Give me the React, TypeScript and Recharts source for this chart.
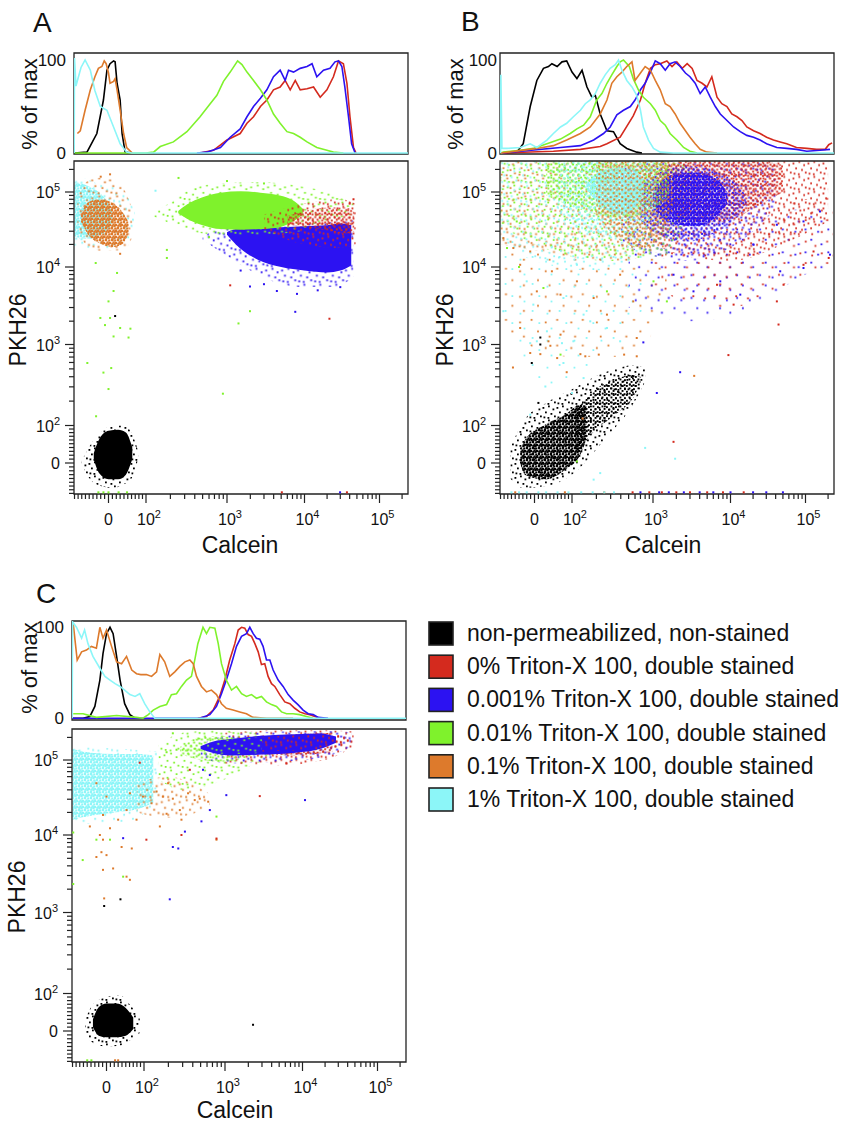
import React from 'react';
import { ComposedChart, Line, Area, Scatter, XAxis, YAxis, ReferenceArea } from 'recharts';

// ---- series / legend ----
const SERIES_KEYS = ['black', 'red', 'blue', 'green', 'orange', 'cyan'];
const SERIES_LABELS = [
  'non-permeabilized, non-stained',
  '0% Triton-X 100, double stained',
  '0.001% Triton-X 100, double stained',
  '0.01% Triton-X 100, double stained',
  '0.1% Triton-X 100, double stained',
  '1% Triton-X 100, double stained',
];
const COLORS: Record<string, string> = {
  black: '#000000',
  red: '#d42a1e',
  blue: '#2c12f2',
  green: '#7ff22c',
  orange: '#dd7a2c',
  cyan: '#8cf6f8',
};

// ---- axis ticks (raw fluorescence units) ----
const MAJOR_TICKS = [0, 100, 1000, 10000, 100000];
const MINOR_TICKS = [
  -90, -80, -70, -60, -50, -40, -30, -20, -10,
  10, 20, 30, 40, 50, 60, 70, 80, 90,
  200, 300, 400, 500, 600, 700, 800, 900,
  2000, 3000, 4000, 5000, 6000, 7000, 8000, 9000,
  20000, 30000, 40000, 50000, 60000, 70000, 80000, 90000,
  200000,
];
const PCT_TICKS = [0, 100];

// ---- histograms: [calcein, % of max] ----
const histA_black = [[-90, 0], [-56, 1], [-30, 21], [-13, 57], [-4, 89], [4, 96], [13, 99], [17, 98], [22, 75], [30, 57], [35, 21], [43, 1], [60, 0]];
const histA_red = [[465, 0], [680, 3], [1000, 14], [1480, 21], [1810, 32], [2200, 39], [2700, 50], [3270, 57], [3980, 68], [4850, 71], [5630, 78], [6540, 68], [7600, 78], [8800, 68], [10800, 69], [13200, 71], [16200, 60], [19900, 68], [24300, 82], [28400, 99], [33000, 96], [36800, 75], [40400, 39], [45000, 6], [48700, 0]];
const histA_blue = [[425, 0], [565, 1], [830, 6], [1100, 17], [1480, 26], [1810, 39], [2200, 50], [2700, 59], [3270, 68], [3980, 82], [4850, 89], [5630, 78], [6220, 89], [7220, 87], [8800, 91], [10800, 93], [12600, 96], [14600, 82], [17900, 89], [21900, 91], [25500, 98], [28400, 99], [31500, 93], [34500, 71], [38600, 39], [42500, 10], [47300, 0]];
const histA_green = [[-90, 0], [100, 0], [124, 1], [150, 7], [218, 12], [320, 23], [465, 39], [620, 53], [750, 62], [905, 77], [1100, 87], [1370, 99], [1560, 95], [1810, 87], [2200, 78], [2700, 68], [3270, 57], [3980, 42], [4850, 32], [5940, 23], [7220, 21], [8800, 17], [10800, 12], [14600, 6], [19900, 3], [24300, 1], [33000, 0]];
const histA_orange = [[-82, 21], [-74, 24], [-61, 46], [-47, 68], [-35, 82], [-26, 91], [-17, 93], [-11, 99], [-6, 96], [0, 86], [4, 75], [13, 77], [17, 80], [22, 68], [30, 46], [39, 21], [47, 6], [62, 0]];
const histA_cyan = [[-91, 0], [-90, 102], [-86, 72], [-72, 92], [-61, 100], [-47, 89], [-35, 67], [-21, 50], [-4, 46], [13, 28], [30, 10], [47, 1], [60, 0], [250000, 0]];

const histB_black = [[-90, 0], [-82, 0], [-46, 1], [-29, 10], [-11, 50], [6, 78], [23, 91], [36, 93], [45, 96], [59, 93], [72, 98], [85, 99], [100, 87], [115, 80], [133, 89], [153, 71], [176, 60], [194, 62], [223, 42], [270, 24], [325, 23], [393, 10], [475, 5], [630, 1], [730, 0]];
const histB_red = [[-90, 0], [49, 2], [127, 4], [223, 7], [270, 10], [393, 17], [570, 40], [700, 57], [800, 75], [930, 91], [1070, 95], [1240, 96], [1510, 99], [1760, 93], [2030, 98], [2380, 91], [2760, 96], [3200, 91], [3700, 78], [4300, 75], [4960, 71], [5740, 82], [6700, 60], [7720, 53], [9000, 50], [10400, 42], [12200, 39], [14200, 35], [16500, 28], [20300, 24], [24800, 21], [30300, 17], [37400, 14], [46000, 12], [56200, 10], [75800, 6], [104000, 5], [140000, 4], [183000, 4], [204000, 9], [226000, 11]];
const histB_blue = [[-90, 0], [68, 6], [127, 8], [185, 14], [245, 21], [296, 28], [358, 41], [432, 46], [525, 50], [600, 57], [700, 68], [800, 75], [930, 87], [1070, 99], [1240, 96], [1440, 89], [1660, 96], [1930, 98], [2240, 93], [2620, 86], [3000, 82], [3500, 75], [4060, 64], [4720, 71], [5480, 60], [6370, 50], [7380, 42], [9000, 35], [11000, 28], [13500, 23], [16500, 19], [20300, 17], [24800, 14], [30300, 10], [41500, 6], [56200, 5], [75800, 4], [104000, 2], [156000, 3], [212000, 4]];
const histB_green = [[-90, 0], [-82, 1], [-37, 3], [-3, 5], [32, 10], [68, 15], [95, 21], [115, 26], [139, 30], [168, 39], [202, 57], [234, 64], [270, 75], [310, 84], [358, 93], [393, 98], [432, 100], [510, 93], [570, 80], [660, 68], [760, 60], [930, 53], [1070, 46], [1240, 35], [1440, 30], [1660, 21], [2030, 14], [2480, 6], [3000, 2], [3700, 0]];
const histB_orange = [[-90, 0], [6, 5], [49, 8], [85, 14], [127, 21], [168, 28], [223, 42], [270, 57], [310, 75], [358, 82], [413, 87], [475, 93], [550, 98], [600, 78], [700, 86], [800, 93], [930, 89], [1070, 78], [1240, 68], [1440, 53], [1660, 50], [1930, 42], [2240, 32], [2620, 24], [3000, 17], [3500, 10], [4060, 4], [4960, 1], [6700, 0]];
const histB_cyan = [[-90, 0], [-89, 84], [-86, 5], [-72, 5], [-37, 6], [-11, 10], [6, 6], [32, 14], [49, 21], [68, 28], [85, 32], [104, 39], [127, 46], [146, 53], [168, 57], [194, 64], [223, 75], [257, 84], [296, 91], [342, 95], [375, 100], [413, 89], [475, 78], [550, 71], [630, 62], [700, 46], [760, 28], [880, 14], [1015, 5], [1240, 1], [1840, 0], [250000, 0]];

const histC_black = [[-90, 0], [-61, 0], [-43, 2], [-30, 13], [-17, 42], [-9, 71], [0, 93], [9, 100], [17, 93], [26, 68], [35, 42], [47, 16], [61, 4], [75, 0]];
const histC_red = [[462, 0], [591, 2], [715, 9], [860, 24], [995, 42], [1150, 64], [1340, 82], [1480, 97], [1634, 100], [1800, 99], [1990, 92], [2200, 90], [2430, 82], [2680, 73], [2955, 59], [3260, 60], [3600, 46], [3980, 38], [4390, 35], [5090, 26], [5910, 18], [6860, 16], [7950, 11], [9200, 7], [10800, 5], [12500, 4], [14600, 2], [17100, 0]];
const histC_blue = [[-90, 0], [265, 0], [488, 0], [650, 4], [785, 13], [905, 27], [1040, 42], [1213, 60], [1407, 79], [1634, 90], [1892, 93], [2090, 100], [2310, 93], [2545, 88], [2810, 87], [3100, 79], [3430, 64], [3790, 64], [4180, 53], [4850, 42], [5620, 35], [6530, 26], [7560, 20], [8740, 15], [10200, 9], [11900, 5], [13900, 4], [16200, 1], [21900, 0]];
const histC_green = [[-88, 5], [-61, 5], [-26, 1], [26, 3], [79, 1], [97, 0], [113, 4], [130, 9], [157, 13], [190, 15], [218, 26], [252, 27], [290, 35], [335, 42], [385, 46], [423, 64], [462, 82], [535, 100], [591, 93], [650, 100], [750, 99], [825, 82], [905, 60], [1040, 42], [1213, 31], [1407, 35], [1634, 27], [1892, 24], [2200, 26], [2545, 22], [2955, 24], [3427, 18], [3980, 15], [4620, 13], [5360, 7], [6220, 5], [7560, 5], [9200, 4], [11310, 2], [13900, 0]];
const histC_orange = [[-88, 104], [-77, 64], [-65, 73], [-52, 75], [-39, 79], [-26, 77], [-17, 100], [-9, 88], [0, 97], [13, 79], [26, 62], [39, 60], [52, 68], [66, 53], [79, 49], [91, 48], [107, 48], [124, 46], [143, 51], [157, 70], [180, 62], [208, 46], [240, 51], [277, 57], [320, 62], [368, 64], [405, 60], [445, 46], [512, 35], [591, 29], [680, 31], [785, 26], [905, 16], [1040, 11], [1270, 9], [1550, 7], [1890, 5], [2300, 1], [3430, 0], [7560, 0]];
const histC_cyan = [[-91, 0], [-90, 106], [-79, 100], [-65, 88], [-57, 97], [-48, 82], [-35, 68], [-17, 55], [-4, 46], [9, 42], [22, 38], [35, 35], [47, 31], [61, 26], [75, 24], [88, 27], [102, 16], [118, 7], [136, 0], [250000, 0]];

// ---- scatter clouds: [calcein, PKH26 low, PKH26 high] envelopes ----
const cloudA_blueHalo = [[500, 23000, 26000], [1000, 14000, 33000], [2000, 9000, 34000], [5000, 6000, 35000], [10000, 5500, 37000], [25000, 5500, 40000], [45000, 7500, 42000]];
const cloudA_blueCore = [[1000, 27000, 29000], [1300, 20000, 32000], [2500, 12500, 33000], [5000, 10000, 34000], [10000, 9000, 35000], [20000, 8500, 36000], [30000, 9000, 38000], [42000, 10500, 36000]];
const cloudA_greenHalo = [[120, 48000, 54000], [200, 38000, 72000], [350, 30000, 110000], [830, 27000, 130000], [2700, 27000, 135000], [8800, 30000, 120000], [20000, 40000, 100000], [45000, 50000, 70000]];
const cloudA_greenCore = [[250, 52000, 56000], [320, 44000, 68000], [500, 36000, 85000], [830, 32000, 98000], [1500, 31500, 102000], [2700, 32000, 98000], [4800, 34000, 90000], [7000, 40000, 78000], [9500, 50000, 60000]];
const cloudA_redHalo = [[3000, 30000, 50000], [10000, 20000, 70000], [30000, 18000, 80000], [48000, 20000, 70000]];
const cloudA_redCore = [[6000, 36000, 48000], [12000, 33000, 58000], [22000, 30000, 62000], [35000, 28000, 62000], [46000, 30000, 55000]];
const cloudA_cyanHalo = [[-92, 19000, 160000], [-60, 18000, 150000], [-30, 17000, 130000], [0, 17000, 120000], [30, 18000, 110000], [55, 22000, 80000], [68, 35000, 55000]];
const cloudA_cyanCore = [[-90, 26000, 135000], [-70, 24000, 130000], [-45, 24000, 115000], [-20, 27000, 95000], [0, 32000, 70000], [10, 40000, 55000]];
const cloudA_orangeHalo = [[-82, 30000, 90000], [-55, 19000, 140000], [-25, 16500, 155000], [10, 16500, 150000], [40, 17000, 110000], [62, 25000, 60000]];
const cloudA_orangeCore = [[-72, 40000, 50000], [-55, 28000, 72000], [-25, 21000, 80000], [10, 18500, 72000], [35, 20000, 55000], [52, 28000, 40000]];
const cloudA_blackHalo = [[-70, -5, 5], [-45, -45, 50], [-20, -60, 80], [10, -65, 100], [40, -55, 100], [60, -40, 80], [78, 10, 30]];
const cloudA_blackCore = [[-38, 10, 25], [-25, -25, 60], [0, -42, 85], [25, -42, 88], [45, -30, 80], [62, 10, 40]];

const cloudB_orangeFaint = [[-90, 1500, 30000], [100, 700, 30000], [600, 700, 30000], [1500, 5000, 30000]];
const cloudB_cyanFaint = [[-90, 2000, 30000], [50, 300, 20000], [300, 1000, 20000], [800, 3000, 20000]];
const cloudB_blueFaint = [[500, 3000, 30000], [3000, 2000, 30000], [20000, 3000, 40000], [100000, 8000, 60000], [230000, 10000, 60000]];
const cloudB_redFaint = [[1000, 5000, 50000], [10000, 3000, 50000], [100000, 8000, 80000], [230000, 10000, 100000]];
const cloudB_redSparse = [[800, 25000, 200000], [2000, 15000, 262000], [10000, 12000, 262000], [50000, 20000, 262000], [200000, 40000, 262000]];
const cloudB_blueSparse = [[400, 20000, 200000], [1000, 14000, 262000], [3000, 12000, 262000], [8000, 16000, 262000], [20000, 30000, 262000], [40000, 60000, 220000]];
const cloudB_orangeSparse = [[-90, 20000, 262000], [50, 15000, 262000], [300, 12000, 262000], [1000, 15000, 262000], [2500, 35000, 262000]];
const cloudB_greenSparse = [[-90, 35000, 262000], [0, 20000, 262000], [300, 12000, 262000], [1500, 15000, 262000], [3000, 60000, 262000]];
const cloudB_cyanSparse = [[-90, 25000, 262000], [0, 12000, 262000], [200, 9000, 262000], [800, 18000, 262000], [2000, 50000, 220000]];
const cloudB_redMed = [[1500, 60000, 220000], [3000, 40000, 262000], [8000, 40000, 262000], [20000, 60000, 262000], [50000, 100000, 230000]];
const cloudB_blueMed = [[700, 40000, 120000], [1500, 24000, 200000], [3000, 22000, 220000], [6000, 28000, 190000], [12000, 45000, 130000], [16000, 70000, 90000]];
const cloudB_blueDense = [[1000, 60000, 100000], [1800, 38000, 170000], [3500, 35000, 180000], [6500, 45000, 150000], [9000, 70000, 100000]];
const cloudB_greenMed = [[30, 90000, 262000], [150, 55000, 262000], [400, 45000, 262000], [900, 55000, 262000], [1600, 90000, 262000]];
const cloudB_cyanMed = [[60, 60000, 200000], [120, 32000, 262000], [300, 25000, 262000], [700, 30000, 262000], [1100, 60000, 220000]];
const cloudB_cyanCore = [[150, 110000, 130000], [250, 60000, 200000], [400, 50000, 210000], [600, 60000, 190000], [760, 100000, 140000]];
const cloudB_orangeMed = [[200, 50000, 262000], [350, 25000, 262000], [700, 18000, 262000], [1300, 25000, 262000], [1800, 60000, 262000]];
const cloudB_blackHalo = [[-63, -40, 40], [-30, -65, 110], [30, -60, 190], [100, -30, 280], [250, 60, 450], [600, 200, 560], [800, 350, 500]];
const cloudB_blackBand = [[110, 20, 150], [194, 87, 277], [342, 136, 372], [600, 240, 423], [700, 330, 400]];
const cloudB_blackCore = [[-37, 0, 30], [-24, -31, 61], [28, -43, 103], [81, -17, 136], [127, 22, 180], [150, 60, 175]];

const cloudC_cyanSparse = [[-92, 14000, 150000], [50, 15000, 140000], [150, 28000, 130000]];
const cloudC_cyanCore = [[-90, 16000, 140000], [-40, 18000, 125000], [20, 20000, 120000], [80, 22000, 120000], [130, 27000, 115000]];
const cloudC_orangeSparse = [[80, 20000, 50000], [200, 17000, 60000], [450, 20000, 45000], [650, 25000, 35000]];
const cloudC_greenSparse = [[150, 55000, 160000], [300, 40000, 230000], [800, 50000, 250000], [2500, 90000, 230000], [6000, 120000, 200000]];
const cloudC_redSparse = [[1000, 90000, 230000], [5000, 85000, 250000], [20000, 100000, 250000], [48000, 150000, 240000]];
const cloudC_blueSparse = [[500, 110000, 160000], [1000, 90000, 210000], [5000, 95000, 240000], [20000, 110000, 245000], [45000, 150000, 230000]];
const cloudC_greenMed = [[280, 120000, 150000], [500, 100000, 200000], [900, 95000, 210000], [1400, 100000, 200000], [2000, 115000, 165000]];
const cloudC_redMed = [[2000, 120000, 200000], [8000, 115000, 220000], [25000, 130000, 230000]];
const cloudC_blueCore = [[500, 140000, 152000], [700, 125000, 175000], [1200, 115000, 190000], [3000, 118000, 210000], [8000, 125000, 220000], [17000, 140000, 225000], [28000, 170000, 205000]];
const cloudC_redOver = [[3000, 130000, 200000], [20000, 140000, 220000], [45000, 160000, 220000]];
const cloudC_greenOver = [[600, 125000, 175000], [1500, 120000, 195000], [3000, 125000, 200000]];
const cloudC_blackHalo = [[-55, -10, 30], [-35, -30, 70], [0, -40, 90], [35, -38, 95], [60, -25, 70], [88, -5, 40]];
const cloudC_blackCore = [[-35, 10, 30], [-20, -12, 62], [0, -16, 72], [25, -16, 72], [50, -12, 60], [70, 5, 35]];

// ---- single events: [calcein, PKH26] ----
const dotsA_green = [[-33, 11300], [22, 8380], [13, 4900], [0, 3600], [-21, 2200], [4, 2200], [-9, 1780], [13, 1270], [30, 1634], [52, 1230], [57, 1600], [181, 16900], [181, 13200], [252, 154000], [1407, 1870], [1980, 2690], [-55, 591], [-13, 450], [7, 512], [0, 282], [-32, 130], [890, 247], [-26, -77], [-13, -77], [0, -77], [26, -77], [48, -77], [1000, 140000], [3000, 130000], [600, 25000]];
const dotsA_blue = [[7600, 2640], [4400, 4900], [1980, 5600], [29800, -77], [3000, 6000], [8000, 4500], [15000, 5000], [30000, 5500], [1500, 9000]];
const dotsA_red = [[21500, 2150], [1100, 5800], [5100, -77], [36800, -77], [40000, 70000], [45000, 80000]];
const dotsA_cyan = [[131, 104000]];
const dotsA_orange = [[30, 15000], [-20, 160000], [4, 172000]];
const dotsA_black = [[17, 2330]];

const dotsB_orange = [[-55, 17900], [-37, 10700], [-11, 16100], [6, 4850], [45, 8800], [68, 4400], [115, 6530], [185, 3980], [270, 2430], [393, 7950], [570, 3600], [630, 1213], [127, 760], [15, 760], [68, 1340], [-37, 1634], [-82, 24300], [-56, 520], [-11, 785], [36, 1100], [41, 965], [59, 680], [85, 455], [146, 715], [214, 750], [440, 750], [630, 715], [3400, 410], [135, 122], [-50, -77], [80, -77], [250, -77]];
const dotsB_cyan = [[-82, 2690], [-20, 6530], [-3, 3270], [32, 1480], [76, 3980], [139, 2430], [168, 1990], [270, 1634], [393, 1100], [115, 10700], [49, 11900], [6, 1100], [-11, 1040], [28, 303], [76, 591], [100, 252], [139, 385], [72, 1040], [104, 1100], [185, -43], [223, -26], [800, 39], [1930, 11], [-11, 136], [-60, -77], [-40, -77], [-20, -77], [10, -77], [30, -77], [60, -77], [90, -77], [130, -77], [180, -77], [250, -77], [330, -77]];
const dotsB_blue = [[46000, 8800], [94000, 9700], [212000, 14600], [13500, 4400], [7380, 6530], [3330, 4850], [1840, 7950], [94000, 40500], [156000, 55000], [20300, 19800], [41500, 36600], [760, 1065], [2240, 455], [1120, 252], [700, -77], [1200, -77], [1600, -77], [2500, -77], [4000, -77], [6000, -77], [10000, -77], [20000, -77], [30000, -77], [50000, -77]];
const dotsB_red = [[41500, 3600], [43700, 1810], [204000, 13200], [20300, 14600], [51000, 5900], [11000, 3270], [6700, 5900], [9900, 16100], [128000, 16100], [94000, 10700], [9400, 740], [1840, 55], [560, -77], [900, -77], [1300, -77], [2000, -77], [3000, -77], [5000, -77], [8000, -77], [15000, -77]];
const dotsB_green = [[-72, 17900], [-40, 10000], [23, 5360], [270, 4850], [1015, 6530], [1510, 3600], [-46, 40500], [68, 750], [115, 4]];
const dotsB_black = [[-7, 591], [15, 1000], [10, 190], [15, 1230]];

const dotsC_orange = [[-26, 49000], [0, 32500], [-9, 18500], [9, 12300], [30, 16000], [52, 21500], [61, 36000], [97, 32500], [124, 26500], [143, 38000], [171, 32500], [198, 49000], [227, 30500], [277, 21500], [350, 36000], [423, 29200], [488, 30500], [620, 27800], [290, 16000], [190, 19200], [157, 13000], [79, 16000], [-43, 13000], [-17, 10000], [-9, 8700], [0, 5500], [-13, 6000], [-26, 5200], [-9, 3550], [17, 3700], [52, 2900], [61, 2640], [39, 7000], [785, 8700], [66, 6700], [-6, 1520], [22, -77], [30, -77]];
const dotsC_blue = [[43, 9100], [227, 7000], [265, 6700], [320, 11100], [512, 15200], [650, 21500], [1040, 34000], [10800, 29200], [650, 63000], [535, 74000], [208, 1480]];
const dotsC_green = [[-88, 10800], [-62, 4750], [-88, 2330], [-26, 8700], [9, 8700], [785, 17600], [43, 2900], [190, 127000], [252, 137000], [227, 227000], [-50, -77], [-39, -77]];
const dotsC_red = [[107, 8700], [290, 10000], [2810, 33000], [88, 92000], [368, 74000], [6220, 90000], [785, 9000]];
const dotsC_black = [[-6, 1213], [36, 1480], [2300, 16]];

// ---- display transform (biexponential-like) ----
const disp = (v: number) => {
  if (v <= 100) return (37.5 * Math.asinh(v / 200)) / Math.asinh(0.5);
  const l = Math.log10(v);
  if (l <= 3) return 37.5 + (l - 2) * 81;
  if (l <= 4) return 118.5 + (l - 3) * 77.5;
  return 196 + (l - 4) * 75;
};

const X_DOMAIN = [-34.5, 299.5];
const Y_DOMAIN = [-31, 302];
const PLOT_W = 334;
const PLOT_H = 333;
const AXIS_COLOR = '#222222';
const FONT = '"Liberation Sans", Arial, Helvetica, sans-serif';

const allTicks = (dom: number[]) =>
  [...MAJOR_TICKS, ...MINOR_TICKS].map(disp).filter((d) => d >= dom[0] && d <= dom[1]).sort((a, b) => a - b);
const X_TICKS = allTicks(X_DOMAIN);
const Y_TICKS = allTicks(Y_DOMAIN);
const majorIndex = (d: number) => MAJOR_TICKS.findIndex((v) => Math.abs(disp(v) - d) < 0.01);

const toLine = (pts: number[][]) => pts.map(([v, p]) => ({ x: disp(v), p }));
const toBand = (pts: number[][]) => pts.map(([v, lo, hi]) => ({ x: disp(v), r: [disp(lo), disp(hi)] }));
const toDots = (pts: number[][]) => pts.map(([v, w]) => ({ x: disp(v), y: disp(w) }));

const fillFor = (style: string, key: string) => (style === 'solid' ? COLORS[key] : `url(#${style}-${key})`);

const TickText = ({ v, x, y, anchor }: any) => {
  if (v === 0) {
    return (
      <text x={x} y={y} textAnchor={anchor === 'start' ? 'middle' : 'end'} fontSize={16} fontFamily={FONT} fill="#111">
        0
      </text>
    );
  }
  const exp = Math.round(Math.log10(v));
  return (
    <text x={x} y={y} textAnchor={anchor} fontSize={16} fontFamily={FONT} fill="#111">
      10
      <tspan dy={-7} fontSize={11}>
        {exp}
      </tspan>
    </text>
  );
};

const XTick = (props: any) => {
  const { x, y, payload } = props;
  const mi = majorIndex(payload.value);
  const major = mi >= 0;
  const v = major ? MAJOR_TICKS[mi] : null;
  return (
    <g>
      <line x1={x} x2={x} y1={y} y2={y + (major ? 9 : 5)} stroke={AXIS_COLOR} strokeWidth={1.2} />
      {major && <TickText v={v} x={v === 0 ? x : x - 9} y={y + 31} anchor="start" />}
    </g>
  );
};

const YTick = (props: any) => {
  const { x, y, payload } = props;
  const mi = majorIndex(payload.value);
  const major = mi >= 0;
  return (
    <g>
      <line x1={x} x2={x - (major ? 9 : 5)} y1={y} y2={y} stroke={AXIS_COLOR} strokeWidth={1.2} />
      {major && <TickText v={MAJOR_TICKS[mi]} x={x - 14} y={y + 6} anchor="end" />}
    </g>
  );
};

const makeHistTick = (gap: number) => (props: any) => {
  const { x, y, payload } = props;
  return (
    <text x={x - gap} y={y + 6} textAnchor="end" fontSize={17} fontFamily={FONT} fill="#111">
      {payload.value}
    </text>
  );
};

const Histogram = ({ left, top, plotH, yDomain, series, labelGap }: any) => (
  <div style={{ position: 'absolute', left: left - 70, top: top - 8 }}>
    <ComposedChart width={70 + PLOT_W + 8} height={8 + plotH + 14} margin={{ top: 8, right: 8, bottom: 14, left: 0 }}>
      <XAxis type="number" dataKey="x" domain={X_DOMAIN} allowDataOverflow hide height={0} />
      <YAxis
        type="number"
        domain={yDomain}
        allowDataOverflow
        ticks={PCT_TICKS}
        interval={0}
        width={70}
        axisLine={false}
        tickLine={false}
        tickSize={0}
        tickMargin={0}
        tick={makeHistTick(labelGap)}
      />
      {series.map(([key, pts]: any) => (
        <Line
          key={key}
          data={toLine(pts)}
          dataKey="p"
          type="linear"
          stroke={COLORS[key]}
          strokeWidth={1.6}
          dot={false}
          activeDot={false}
          isAnimationActive={false}
        />
      ))}
      <ReferenceArea
        x1={X_DOMAIN[0]}
        x2={X_DOMAIN[1]}
        y1={yDomain[0]}
        y2={yDomain[1]}
        fill="none"
        fillOpacity={0}
        stroke={AXIS_COLOR}
        strokeWidth={1.3}
        ifOverflow="visible"
      />
    </ComposedChart>
  </div>
);

const Scatterplot = ({ left, top, layers, dots }: any) => (
  <div style={{ position: 'absolute', left: left - 70, top: top - 8 }}>
    <ComposedChart width={70 + PLOT_W + 8} height={8 + PLOT_H + 40} margin={{ top: 8, right: 8, bottom: 0, left: 0 }}>
      <XAxis
        type="number"
        dataKey="x"
        domain={X_DOMAIN}
        allowDataOverflow
        ticks={X_TICKS}
        interval={0}
        height={40}
        axisLine={false}
        tickLine={false}
        tickSize={0}
        tickMargin={0}
        tick={XTick}
      />
      <YAxis
        type="number"
        dataKey="y"
        domain={Y_DOMAIN}
        allowDataOverflow
        ticks={Y_TICKS}
        interval={0}
        width={70}
        axisLine={false}
        tickLine={false}
        tickSize={0}
        tickMargin={0}
        tick={YTick}
      />
      {layers.map(([key, style, pts]: any, i: number) => (
        <Area
          key={`area-${i}`}
          data={toBand(pts)}
          dataKey="r"
          type="monotone"
          stroke="none"
          fill={fillFor(style, key)}
          fillOpacity={1}
          dot={false}
          activeDot={false}
          isAnimationActive={false}
        />
      ))}
      {dots.map(([key, pts]: any, i: number) => (
        <Scatter
          key={`dots-${i}`}
          data={toDots(pts)}
          isAnimationActive={false}
          shape={(p: any) => <rect x={p.cx - 1} y={p.cy - 1} width={2} height={2} fill={COLORS[key]} />}
        />
      ))}
      <ReferenceArea
        x1={X_DOMAIN[0]}
        x2={X_DOMAIN[1]}
        y1={Y_DOMAIN[0]}
        y2={Y_DOMAIN[1]}
        fill="none"
        fillOpacity={0}
        stroke={AXIS_COLOR}
        strokeWidth={1.3}
        ifOverflow="visible"
      />
    </ComposedChart>
  </div>
);

const HIST_A = [['black', histA_black], ['red', histA_red], ['blue', histA_blue], ['green', histA_green], ['orange', histA_orange], ['cyan', histA_cyan]];
const HIST_B = [['black', histB_black], ['red', histB_red], ['blue', histB_blue], ['green', histB_green], ['orange', histB_orange], ['cyan', histB_cyan]];
const HIST_C = [['black', histC_black], ['red', histC_red], ['blue', histC_blue], ['green', histC_green], ['orange', histC_orange], ['cyan', histC_cyan]];

const LAYERS_A = [
  ['blue', 'sparse', cloudA_blueHalo],
  ['blue', 'solid', cloudA_blueCore],
  ['green', 'sparse', cloudA_greenHalo],
  ['green', 'solid', cloudA_greenCore],
  ['red', 'sparse', cloudA_redHalo],
  ['red', 'med', cloudA_redCore],
  ['cyan', 'sparse', cloudA_cyanHalo],
  ['cyan', 'dense', cloudA_cyanCore],
  ['orange', 'sparse', cloudA_orangeHalo],
  ['orange', 'dense', cloudA_orangeCore],
  ['black', 'sparse', cloudA_blackHalo],
  ['black', 'solid', cloudA_blackCore],
];
const LAYERS_B = [
  ['orange', 'faint', cloudB_orangeFaint],
  ['cyan', 'faint', cloudB_cyanFaint],
  ['blue', 'faint', cloudB_blueFaint],
  ['red', 'faint', cloudB_redFaint],
  ['red', 'sparse', cloudB_redSparse],
  ['blue', 'sparse', cloudB_blueSparse],
  ['orange', 'sparse', cloudB_orangeSparse],
  ['green', 'sparse', cloudB_greenSparse],
  ['cyan', 'sparse', cloudB_cyanSparse],
  ['red', 'med', cloudB_redMed],
  ['blue', 'med', cloudB_blueMed],
  ['blue', 'dense', cloudB_blueDense],
  ['green', 'med', cloudB_greenMed],
  ['cyan', 'med', cloudB_cyanMed],
  ['cyan', 'dense', cloudB_cyanCore],
  ['orange', 'med', cloudB_orangeMed],
  ['black', 'sparse', cloudB_blackHalo],
  ['black', 'med', cloudB_blackBand],
  ['black', 'dense', cloudB_blackCore],
];
const LAYERS_C = [
  ['cyan', 'sparse', cloudC_cyanSparse],
  ['cyan', 'dense', cloudC_cyanCore],
  ['orange', 'sparse', cloudC_orangeSparse],
  ['green', 'sparse', cloudC_greenSparse],
  ['red', 'sparse', cloudC_redSparse],
  ['blue', 'sparse', cloudC_blueSparse],
  ['green', 'med', cloudC_greenMed],
  ['red', 'med', cloudC_redMed],
  ['blue', 'solid', cloudC_blueCore],
  ['red', 'sparse', cloudC_redOver],
  ['green', 'sparse', cloudC_greenOver],
  ['black', 'sparse', cloudC_blackHalo],
  ['black', 'solid', cloudC_blackCore],
];

const DOTS_A = [['green', dotsA_green], ['blue', dotsA_blue], ['red', dotsA_red], ['cyan', dotsA_cyan], ['orange', dotsA_orange], ['black', dotsA_black]];
const DOTS_B = [['orange', dotsB_orange], ['cyan', dotsB_cyan], ['blue', dotsB_blue], ['red', dotsB_red], ['green', dotsB_green], ['black', dotsB_black]];
const DOTS_C = [['orange', dotsC_orange], ['blue', dotsC_blue], ['green', dotsC_green], ['red', dotsC_red], ['black', dotsC_black]];

// speckle tiles used to fill the event clouds (irregular dot layouts inside each tile)
const TILES: Record<string, { size: number; dot: number; pts: number[][] }> = {
  dense: { size: 6, dot: 2.2, pts: [[0, 0], [3.2, 0.4], [1.5, 2.4], [3.8, 3], [0.2, 3.7], [2.4, 3.8]] },
  med: { size: 9, dot: 1.9, pts: [[0.5, 0.5], [5, 1.2], [2.6, 3], [7, 3.8], [0.8, 5.6], [4.6, 6.2], [6.9, 7], [2.8, 7.1]] },
  sparse: { size: 14, dot: 1.8, pts: [[0.5, 2], [6, 0.5], [10.5, 3.5], [3, 6.5], [8.5, 8], [12, 10.5], [1.5, 11.5], [5.5, 12]] },
  faint: { size: 20, dot: 1.8, pts: [[2, 3], [13, 5], [7, 12], [16, 16]] },
};
const SHIFT: Record<string, number[]> = { black: [0, 0], red: [1, 3], blue: [2, 1], green: [3, 5], orange: [5, 2], cyan: [4, 4] };

const PatternDefs = () => (
  <defs>
    {SERIES_KEYS.map((k, ci) =>
      Object.keys(TILES).map((name) => {
        const t = TILES[name];
        const [sx, sy] = SHIFT[k];
        // slightly different tile period per colour so overlapping clouds do not line up
        const s = name === 'dense' ? 1 : 1 + 0.07 * ci;
        const size = t.size * s;
        const f = size / 6;
        return (
          <pattern
            key={`${name}-${k}`}
            id={`${name}-${k}`}
            width={size}
            height={size}
            patternUnits="userSpaceOnUse"
            x={sx * f}
            y={sy * f}
          >
            {t.pts.map(([px, py], i) => (
              <rect key={i} x={px * s} y={py * s} width={t.dot} height={t.dot} fill={COLORS[k]} />
            ))}
          </pattern>
        );
      })
    )}
  </defs>
);

const RotLabel = ({ x, y, text, size }: any) => (
  <text transform={`translate(${x},${y}) rotate(-90)`} textAnchor="middle" fontSize={size} fontFamily={FONT} fill="#111">
    {text}
  </text>
);

const Overlay = () => (
  <svg width={847} height={1122} style={{ position: 'absolute', left: 0, top: 0 }}>
    <PatternDefs />
    <text x={33} y={32} fontSize={28} fontFamily={FONT} fill="#111">A</text>
    <text x={461} y={31} fontSize={28} fontFamily={FONT} fill="#111">B</text>
    <text x={36} y={603} fontSize={28} fontFamily={FONT} fill="#111">C</text>

    <RotLabel x={37} y={104} text="% of max" size={22} />
    <RotLabel x={463} y={104} text="% of max" size={22} />
    <RotLabel x={37} y={668} text="% of max" size={22} />

    <RotLabel x={26} y={330} text="PKH26" size={23} />
    <RotLabel x={453} y={330} text="PKH26" size={23} />
    <RotLabel x={25} y={897} text="PKH26" size={23} />

    <text x={240} y={553} textAnchor="middle" fontSize={23} fontFamily={FONT} fill="#111">Calcein</text>
    <text x={663} y={553} textAnchor="middle" fontSize={23} fontFamily={FONT} fill="#111">Calcein</text>
    <text x={235} y={1118} textAnchor="middle" fontSize={23} fontFamily={FONT} fill="#111">Calcein</text>

    {SERIES_KEYS.map((k, i) => {
      const y = 622 + i * 33.2;
      return (
        <g key={k}>
          <rect x={429} y={y} width={24} height={23} fill={COLORS[k]} stroke="#222" strokeWidth={1.6} />
          <text x={467} y={y + 19} fontSize={23} fontFamily={FONT} fill="#111">
            {SERIES_LABELS[i]}
          </text>
        </g>
      );
    })}
  </svg>
);

export default function App() {
  return (
    <div style={{ position: 'absolute', left: 0, top: 0, width: 847, height: 1122, background: '#fff', overflow: 'hidden' }}>
      <Overlay />
      <Histogram left={74} top={53} plotH={101} yDomain={[-1, 107.5]} series={HIST_A} labelGap={8} />
      <Scatterplot left={74} top={161} layers={LAYERS_A} dots={DOTS_A} />
      <Histogram left={500} top={53} plotH={101} yDomain={[-1, 107.5]} series={HIST_B} labelGap={3} />
      <Scatterplot left={500} top={161} layers={LAYERS_B} dots={DOTS_B} />
      <Histogram left={72} top={621} plotH={99} yDomain={[-1.9, 106.9]} series={HIST_C} labelGap={8} />
      <Scatterplot left={72} top={729} layers={LAYERS_C} dots={DOTS_C} />
    </div>
  );
}
